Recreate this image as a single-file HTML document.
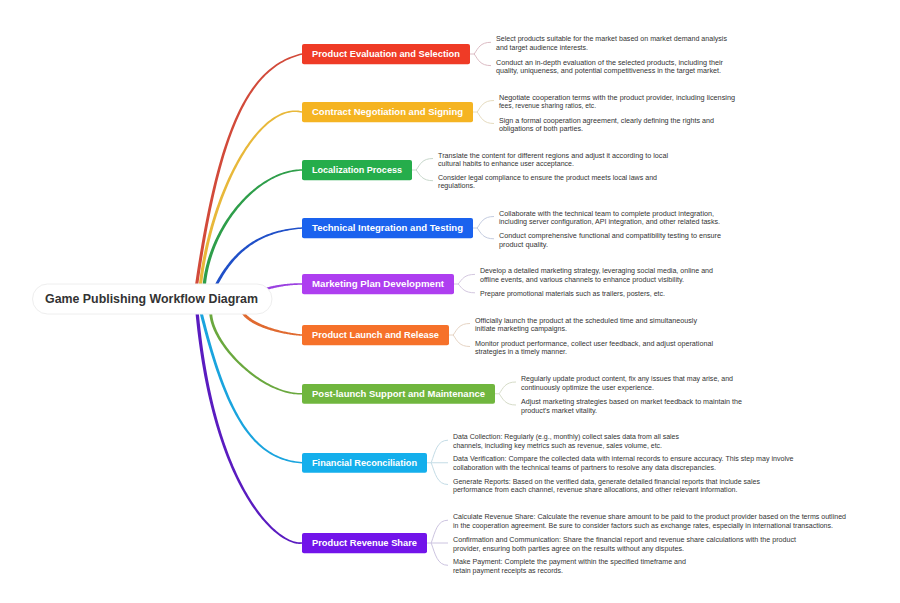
<!DOCTYPE html>
<html><head><meta charset="utf-8"><style>
html,body{margin:0;padding:0;background:#fff;}
svg{display:block;}
.tl{font-family:"Liberation Sans",sans-serif;font-weight:bold;font-size:9.5px;fill:#fff;}
.rt{font-family:"Liberation Sans",sans-serif;font-weight:bold;font-size:12px;fill:#333;}
.st{font-family:"Liberation Sans",sans-serif;font-size:7.6px;fill:#333;}
</style></head><body>
<svg width="900" height="603" viewBox="0 0 900 603">
<defs><clipPath id="cu"><rect x="0" y="0" width="900" height="299"/></clipPath><clipPath id="cl"><rect x="0" y="299" width="900" height="304"/></clipPath></defs>
<rect width="900" height="603" fill="#fff"/>
<path d="M187.61 370.73 L188.54 362.20 L189.47 353.82 L190.41 345.57 L191.35 337.48 L192.31 329.52 L193.27 321.70 L194.24 314.02 L195.22 306.48 L196.21 299.07 L197.20 291.80 L198.21 284.66 L199.23 277.66 L200.25 270.79 L201.29 264.05 L202.33 257.44 L203.39 250.96 L204.46 244.61 L205.53 238.38 L206.62 232.28 L207.73 226.31 L208.84 220.46 L209.96 214.73 L211.10 209.12 L212.25 203.63 L213.42 198.26 L214.59 193.01 L215.78 187.88 L216.98 182.86 L218.20 177.96 L219.43 173.17 L220.68 168.49 L221.94 163.92 L223.21 159.47 L224.50 155.12 L225.81 150.89 L227.13 146.76 L228.47 142.73 L229.82 138.81 L231.19 135.00 L232.57 131.29 L233.98 127.67 L235.39 124.17 L236.83 120.75 L238.28 117.44 L239.76 114.23 L241.25 111.11 L242.75 108.09 L244.28 105.16 L245.82 102.32 L247.39 99.58 L248.97 96.92 L250.57 94.36 L252.19 91.88 L253.84 89.49 L255.50 87.19 L257.18 84.97 L258.88 82.84 L260.60 80.78 L262.35 78.81 L264.11 76.92 L265.90 75.11 L267.71 73.38 L269.54 71.72 L271.40 70.14 L273.28 68.64 L275.18 67.20 L277.10 65.84 L279.05 64.55 L281.02 63.33 L283.02 62.18 L285.04 61.10 L287.09 60.08 L289.17 59.13 L291.27 58.24 L293.39 57.42 L295.55 56.65 L297.73 55.95 L299.94 55.31 L302.18 54.73 L301.82 53.27 L299.54 53.84 L297.29 54.47 L295.05 55.16 L292.85 55.92 L290.67 56.73 L288.51 57.62 L286.38 58.57 L284.28 59.59 L282.20 60.68 L280.14 61.83 L278.11 63.06 L276.10 64.36 L274.12 65.73 L272.16 67.18 L270.22 68.70 L268.31 70.30 L266.42 71.98 L264.55 73.73 L262.71 75.56 L260.89 77.47 L259.09 79.47 L257.32 81.54 L255.56 83.70 L253.83 85.95 L252.12 88.27 L250.43 90.69 L248.77 93.19 L247.12 95.78 L245.49 98.46 L243.89 101.23 L242.30 104.09 L240.73 107.05 L239.19 110.10 L237.66 113.24 L236.15 116.48 L234.66 119.81 L233.19 123.25 L231.73 126.78 L230.30 130.41 L228.88 134.14 L227.48 137.98 L226.09 141.92 L224.72 145.96 L223.37 150.11 L222.03 154.37 L220.71 158.73 L219.41 163.21 L218.12 167.79 L216.84 172.48 L215.58 177.29 L214.34 182.21 L213.11 187.24 L211.89 192.39 L210.68 197.65 L209.49 203.04 L208.32 208.54 L207.15 214.16 L206.00 219.90 L204.86 225.77 L203.73 231.75 L202.61 237.86 L201.51 244.10 L200.42 250.47 L199.33 256.96 L198.26 263.58 L197.20 270.32 L196.15 277.20 L195.11 284.22 L194.07 291.36 L193.05 298.64 L192.04 306.05 L191.03 313.60 L190.04 321.29 L189.05 329.12 L188.07 337.08 L187.10 345.19 L186.14 353.44 L185.18 361.83 L184.23 370.36Z" fill="#d24a3a" clip-path="url(#cu)"/>
<path d="M200.24 311.66 L200.34 308.00 L200.50 304.32 L200.70 300.63 L200.94 296.93 L201.23 293.22 L201.57 289.49 L201.94 285.76 L202.37 282.03 L202.83 278.29 L203.34 274.55 L203.89 270.81 L204.48 267.07 L205.11 263.34 L205.78 259.61 L206.48 255.89 L207.23 252.18 L208.01 248.48 L208.83 244.79 L209.69 241.11 L210.58 237.45 L211.51 233.81 L212.47 230.19 L213.46 226.59 L214.49 223.01 L215.55 219.46 L216.64 215.93 L217.77 212.43 L218.92 208.96 L220.10 205.53 L221.31 202.13 L222.55 198.76 L223.82 195.43 L225.11 192.14 L226.43 188.88 L227.78 185.68 L229.15 182.51 L230.54 179.39 L231.96 176.32 L233.40 173.30 L234.86 170.33 L236.35 167.41 L237.85 164.55 L239.38 161.74 L240.93 158.99 L242.49 156.30 L244.07 153.68 L245.67 151.11 L247.29 148.61 L248.92 146.18 L250.57 143.82 L252.23 141.53 L253.91 139.30 L255.60 137.16 L257.30 135.09 L259.01 133.09 L260.74 131.18 L262.47 129.34 L264.22 127.59 L265.97 125.92 L267.73 124.34 L269.50 122.85 L271.27 121.44 L273.06 120.13 L274.84 118.91 L276.63 117.78 L278.43 116.75 L280.22 115.82 L282.02 114.98 L283.82 114.25 L285.62 113.61 L287.43 113.08 L289.23 112.65 L291.03 112.33 L292.83 112.12 L294.63 112.02 L296.43 112.03 L298.23 112.15 L300.03 112.38 L301.83 112.73 L302.17 111.27 L300.29 110.88 L298.39 110.61 L296.50 110.46 L294.60 110.42 L292.70 110.51 L290.80 110.71 L288.90 111.02 L287.00 111.44 L285.11 111.98 L283.21 112.61 L281.33 113.36 L279.44 114.21 L277.56 115.16 L275.69 116.20 L273.83 117.35 L271.97 118.59 L270.12 119.92 L268.28 121.35 L266.45 122.86 L264.63 124.46 L262.82 126.15 L261.02 127.92 L259.23 129.78 L257.46 131.71 L255.70 133.73 L253.95 135.82 L252.21 137.99 L250.49 140.23 L248.78 142.54 L247.09 144.92 L245.42 147.37 L243.76 149.89 L242.12 152.47 L240.50 155.12 L238.90 157.82 L237.31 160.59 L235.75 163.41 L234.21 166.29 L232.69 169.23 L231.19 172.22 L229.71 175.26 L228.26 178.35 L226.83 181.48 L225.43 184.66 L224.05 187.89 L222.69 191.16 L221.37 194.47 L220.07 197.82 L218.80 201.21 L217.55 204.63 L216.34 208.08 L215.15 211.57 L214.00 215.09 L212.88 218.63 L211.79 222.21 L210.73 225.81 L209.70 229.43 L208.71 233.07 L207.75 236.74 L206.83 240.42 L205.94 244.12 L205.09 247.83 L204.28 251.56 L203.50 255.30 L202.77 259.05 L202.07 262.80 L201.41 266.56 L200.79 270.33 L200.21 274.10 L199.68 277.87 L199.18 281.64 L198.73 285.41 L198.33 289.17 L197.96 292.93 L197.65 296.68 L197.37 300.42 L197.15 304.15 L196.97 307.87 L196.84 311.57Z" fill="#e8b83a" clip-path="url(#cu)"/>
<path d="M205.43 296.11 L205.45 293.78 L205.51 291.45 L205.62 289.12 L205.78 286.79 L205.98 284.46 L206.23 282.13 L206.52 279.81 L206.85 277.49 L207.23 275.18 L207.65 272.87 L208.11 270.56 L208.61 268.26 L209.15 265.97 L209.74 263.69 L210.36 261.42 L211.02 259.16 L211.71 256.90 L212.45 254.66 L213.22 252.44 L214.03 250.22 L214.87 248.02 L215.74 245.83 L216.66 243.66 L217.60 241.51 L218.58 239.37 L219.59 237.25 L220.63 235.15 L221.70 233.07 L222.80 231.00 L223.93 228.96 L225.09 226.94 L226.28 224.95 L227.50 222.97 L228.74 221.02 L230.01 219.10 L231.30 217.20 L232.62 215.33 L233.97 213.48 L235.33 211.66 L236.73 209.88 L238.14 208.12 L239.57 206.39 L241.03 204.69 L242.51 203.02 L244.00 201.39 L245.52 199.79 L247.05 198.23 L248.61 196.70 L250.17 195.20 L251.76 193.74 L253.36 192.32 L254.98 190.94 L256.61 189.59 L258.25 188.29 L259.91 187.03 L261.58 185.80 L263.27 184.62 L264.96 183.48 L266.67 182.39 L268.38 181.34 L270.11 180.33 L271.84 179.37 L273.58 178.46 L275.33 177.59 L277.08 176.77 L278.84 176.00 L280.61 175.28 L282.38 174.61 L284.16 173.99 L285.94 173.42 L287.72 172.90 L289.50 172.44 L291.29 172.03 L293.08 171.68 L294.87 171.38 L296.65 171.13 L298.44 170.95 L300.23 170.82 L302.01 170.75 L301.99 169.25 L300.15 169.30 L298.32 169.41 L296.48 169.57 L294.64 169.80 L292.80 170.08 L290.96 170.42 L289.12 170.82 L287.28 171.27 L285.45 171.77 L283.62 172.33 L281.79 172.95 L279.97 173.61 L278.15 174.33 L276.34 175.09 L274.53 175.91 L272.73 176.77 L270.94 177.68 L269.16 178.64 L267.39 179.65 L265.62 180.70 L263.87 181.80 L262.13 182.94 L260.40 184.13 L258.68 185.35 L256.97 186.62 L255.28 187.93 L253.61 189.28 L251.94 190.67 L250.30 192.10 L248.67 193.57 L247.05 195.07 L245.45 196.61 L243.88 198.19 L242.32 199.80 L240.78 201.45 L239.26 203.13 L237.76 204.84 L236.28 206.58 L234.82 208.35 L233.39 210.16 L231.98 211.99 L230.59 213.85 L229.23 215.74 L227.89 217.66 L226.58 219.61 L225.29 221.58 L224.04 223.57 L222.81 225.59 L221.61 227.63 L220.43 229.70 L219.29 231.79 L218.18 233.90 L217.10 236.02 L216.05 238.17 L215.03 240.34 L214.04 242.53 L213.09 244.73 L212.18 246.95 L211.30 249.19 L210.45 251.44 L209.64 253.70 L208.87 255.98 L208.13 258.27 L207.44 260.58 L206.78 262.89 L206.16 265.22 L205.58 267.56 L205.04 269.90 L204.55 272.26 L204.10 274.62 L203.69 276.99 L203.32 279.36 L203.00 281.74 L202.72 284.13 L202.49 286.52 L202.30 288.91 L202.17 291.31 L202.08 293.70 L202.03 296.10Z" fill="#2e9e4a" clip-path="url(#cu)"/>
<path d="M199.17 337.55 L199.92 334.56 L200.68 331.62 L201.46 328.73 L202.25 325.90 L203.05 323.11 L203.87 320.38 L204.70 317.69 L205.55 315.05 L206.41 312.47 L207.29 309.93 L208.18 307.44 L209.08 304.99 L210.00 302.60 L210.93 300.25 L211.88 297.94 L212.84 295.69 L213.81 293.48 L214.80 291.31 L215.80 289.19 L216.82 287.11 L217.85 285.08 L218.90 283.09 L219.95 281.15 L221.03 279.24 L222.11 277.38 L223.21 275.57 L224.33 273.79 L225.46 272.06 L226.60 270.36 L227.76 268.71 L228.93 267.09 L230.11 265.52 L231.31 263.98 L232.53 262.49 L233.75 261.03 L234.99 259.61 L236.25 258.23 L237.52 256.88 L238.80 255.57 L240.10 254.30 L241.41 253.06 L242.74 251.86 L244.08 250.69 L245.43 249.56 L246.80 248.46 L248.18 247.40 L249.58 246.37 L250.99 245.37 L252.42 244.41 L253.86 243.47 L255.32 242.57 L256.79 241.70 L258.27 240.86 L259.77 240.06 L261.28 239.28 L262.81 238.53 L264.35 237.81 L265.91 237.12 L267.48 236.46 L269.07 235.83 L270.67 235.23 L272.29 234.65 L273.92 234.10 L275.57 233.58 L277.23 233.09 L278.91 232.62 L280.60 232.18 L282.31 231.76 L284.03 231.37 L285.76 231.00 L287.51 230.66 L289.28 230.34 L291.06 230.04 L292.86 229.77 L294.67 229.52 L296.49 229.29 L298.33 229.09 L300.19 228.91 L302.05 228.75 L301.95 227.25 L300.06 227.39 L298.18 227.55 L296.32 227.73 L294.47 227.94 L292.64 228.16 L290.81 228.42 L289.01 228.69 L287.21 228.99 L285.43 229.31 L283.67 229.66 L281.91 230.04 L280.17 230.44 L278.45 230.87 L276.74 231.32 L275.04 231.80 L273.35 232.31 L271.68 232.84 L270.02 233.41 L268.38 234.00 L266.75 234.62 L265.13 235.28 L263.53 235.96 L261.94 236.67 L260.36 237.41 L258.80 238.19 L257.26 239.00 L255.72 239.83 L254.20 240.70 L252.70 241.61 L251.21 242.54 L249.73 243.51 L248.27 244.52 L246.82 245.56 L245.38 246.63 L243.96 247.74 L242.55 248.88 L241.16 250.06 L239.78 251.28 L238.42 252.53 L237.07 253.82 L235.74 255.14 L234.42 256.51 L233.11 257.91 L231.82 259.35 L230.54 260.83 L229.28 262.35 L228.04 263.91 L226.80 265.50 L225.59 267.14 L224.38 268.82 L223.19 270.54 L222.02 272.30 L220.86 274.10 L219.72 275.94 L218.59 277.83 L217.47 279.75 L216.37 281.73 L215.29 283.74 L214.21 285.80 L213.16 287.90 L212.12 290.05 L211.09 292.24 L210.08 294.48 L209.08 296.76 L208.10 299.09 L207.13 301.46 L206.17 303.88 L205.24 306.35 L204.31 308.87 L203.40 311.43 L202.51 314.04 L201.63 316.71 L200.76 319.41 L199.91 322.17 L199.07 324.98 L198.25 327.84 L197.44 330.75 L196.65 333.71 L195.87 336.72Z" fill="#2050c8" clip-path="url(#cu)"/>
<path d="M236.64 301.57 L237.47 301.22 L238.30 300.87 L239.11 300.52 L239.93 300.18 L240.74 299.84 L241.55 299.49 L242.35 299.16 L243.15 298.82 L243.94 298.49 L244.73 298.15 L245.52 297.83 L246.31 297.50 L247.09 297.18 L247.87 296.86 L248.65 296.54 L249.42 296.22 L250.19 295.91 L250.97 295.60 L251.74 295.30 L252.50 295.00 L253.27 294.70 L254.04 294.40 L254.80 294.11 L255.56 293.82 L256.33 293.53 L257.09 293.25 L257.85 292.97 L258.62 292.70 L259.38 292.42 L260.14 292.16 L260.91 291.89 L261.67 291.63 L262.44 291.38 L263.21 291.12 L263.97 290.87 L264.74 290.63 L265.51 290.39 L266.29 290.15 L267.06 289.92 L267.84 289.69 L268.62 289.47 L269.40 289.25 L270.19 289.03 L270.98 288.82 L271.77 288.62 L272.57 288.42 L273.37 288.22 L274.17 288.03 L274.98 287.84 L275.79 287.66 L276.60 287.48 L277.42 287.31 L278.25 287.14 L279.08 286.98 L279.91 286.82 L280.76 286.67 L281.60 286.52 L282.45 286.38 L283.31 286.25 L284.18 286.12 L285.05 285.99 L285.92 285.87 L286.81 285.76 L287.70 285.65 L288.59 285.55 L289.50 285.45 L290.41 285.36 L291.33 285.27 L292.26 285.19 L293.19 285.12 L294.14 285.06 L295.09 284.99 L296.05 284.94 L297.02 284.89 L298.00 284.85 L298.98 284.82 L299.98 284.79 L300.98 284.77 L302.00 284.75 L302.00 283.25 L300.97 283.24 L299.96 283.24 L298.95 283.24 L297.95 283.26 L296.96 283.27 L295.98 283.30 L295.01 283.33 L294.04 283.37 L293.09 283.41 L292.14 283.46 L291.20 283.51 L290.26 283.58 L289.34 283.64 L288.42 283.72 L287.50 283.80 L286.60 283.88 L285.70 283.97 L284.80 284.07 L283.92 284.18 L283.03 284.28 L282.16 284.40 L281.29 284.52 L280.43 284.64 L279.57 284.77 L278.71 284.91 L277.86 285.05 L277.02 285.20 L276.18 285.35 L275.34 285.51 L274.51 285.67 L273.69 285.83 L272.86 286.01 L272.04 286.18 L271.23 286.36 L270.42 286.55 L269.61 286.74 L268.80 286.94 L268.00 287.14 L267.20 287.34 L266.40 287.55 L265.60 287.76 L264.81 287.98 L264.02 288.20 L263.23 288.43 L262.44 288.66 L261.65 288.89 L260.87 289.13 L260.08 289.37 L259.30 289.61 L258.52 289.86 L257.73 290.12 L256.95 290.37 L256.17 290.63 L255.39 290.90 L254.61 291.16 L253.83 291.43 L253.04 291.71 L252.26 291.98 L251.48 292.26 L250.69 292.55 L249.91 292.83 L249.12 293.12 L248.33 293.41 L247.54 293.71 L246.75 294.01 L245.95 294.31 L245.16 294.61 L244.36 294.91 L243.56 295.22 L242.75 295.53 L241.94 295.85 L241.13 296.16 L240.32 296.48 L239.50 296.80 L238.68 297.12 L237.86 297.44 L237.03 297.77 L236.19 298.10 L235.36 298.43Z" fill="#9a40e0"/>
<path d="M239.01 302.90 L238.94 303.87 L238.92 304.83 L238.96 305.78 L239.06 306.71 L239.22 307.62 L239.43 308.52 L239.69 309.40 L240.01 310.26 L240.37 311.10 L240.77 311.92 L241.23 312.72 L241.72 313.50 L242.25 314.26 L242.83 315.01 L243.44 315.74 L244.08 316.44 L244.76 317.14 L245.47 317.81 L246.22 318.47 L246.99 319.11 L247.79 319.74 L248.62 320.35 L249.47 320.94 L250.35 321.53 L251.25 322.09 L252.18 322.65 L253.12 323.19 L254.09 323.71 L255.07 324.23 L256.07 324.73 L257.09 325.22 L258.13 325.69 L259.18 326.15 L260.24 326.60 L261.31 327.04 L262.40 327.47 L263.49 327.88 L264.59 328.29 L265.70 328.68 L266.81 329.06 L267.93 329.42 L269.06 329.78 L270.18 330.13 L271.31 330.46 L272.43 330.78 L273.56 331.10 L274.68 331.40 L275.80 331.69 L276.91 331.97 L278.02 332.24 L279.12 332.49 L280.21 332.74 L281.29 332.98 L282.37 333.21 L283.42 333.43 L284.47 333.63 L285.50 333.83 L286.51 334.02 L287.51 334.19 L288.49 334.36 L289.45 334.52 L290.39 334.66 L291.30 334.80 L292.20 334.93 L293.06 335.05 L293.91 335.16 L294.72 335.26 L295.51 335.35 L296.27 335.43 L297.00 335.50 L297.70 335.57 L298.36 335.62 L298.99 335.66 L299.59 335.70 L300.14 335.73 L300.67 335.75 L301.15 335.76 L301.59 335.76 L302.00 335.75 L302.00 334.25 L301.63 334.23 L301.21 334.21 L300.75 334.18 L300.25 334.14 L299.71 334.09 L299.13 334.03 L298.52 333.96 L297.87 333.88 L297.19 333.80 L296.48 333.70 L295.73 333.60 L294.96 333.49 L294.16 333.36 L293.33 333.23 L292.48 333.09 L291.60 332.94 L290.70 332.78 L289.78 332.61 L288.84 332.43 L287.87 332.24 L286.89 332.05 L285.90 331.84 L284.88 331.62 L283.86 331.39 L282.82 331.16 L281.77 330.91 L280.70 330.65 L279.63 330.38 L278.55 330.10 L277.47 329.82 L276.38 329.52 L275.28 329.21 L274.19 328.89 L273.09 328.56 L271.99 328.22 L270.89 327.87 L269.79 327.51 L268.70 327.13 L267.61 326.75 L266.53 326.36 L265.45 325.95 L264.39 325.54 L263.33 325.11 L262.29 324.68 L261.26 324.23 L260.24 323.77 L259.23 323.30 L258.25 322.82 L257.28 322.33 L256.33 321.83 L255.40 321.32 L254.49 320.80 L253.60 320.27 L252.74 319.72 L251.91 319.17 L251.10 318.61 L250.32 318.03 L249.57 317.45 L248.85 316.86 L248.16 316.26 L247.50 315.65 L246.88 315.03 L246.30 314.40 L245.75 313.76 L245.24 313.12 L244.77 312.47 L244.33 311.81 L243.94 311.15 L243.58 310.47 L243.27 309.80 L243.00 309.11 L242.77 308.42 L242.59 307.72 L242.44 307.01 L242.34 306.29 L242.28 305.56 L242.27 304.82 L242.31 304.07 L242.39 303.30Z" fill="#e06a30"/>
<path d="M230.67 287.75 L228.49 288.31 L226.44 288.96 L224.51 289.68 L222.70 290.48 L221.00 291.36 L219.42 292.31 L217.96 293.34 L216.61 294.43 L215.38 295.60 L214.27 296.83 L213.27 298.12 L212.39 299.47 L211.62 300.87 L210.96 302.32 L210.41 303.82 L209.97 305.36 L209.64 306.94 L209.41 308.56 L209.28 310.21 L209.24 311.88 L209.30 313.59 L209.45 315.32 L209.69 317.08 L210.01 318.86 L210.42 320.66 L210.91 322.47 L211.47 324.31 L212.12 326.16 L212.84 328.02 L213.63 329.90 L214.49 331.78 L215.42 333.68 L216.42 335.58 L217.48 337.48 L218.60 339.39 L219.79 341.29 L221.03 343.20 L222.33 345.10 L223.69 347.00 L225.10 348.89 L226.56 350.77 L228.07 352.64 L229.63 354.49 L231.23 356.33 L232.88 358.15 L234.57 359.96 L236.30 361.74 L238.07 363.49 L239.88 365.22 L241.72 366.93 L243.60 368.60 L245.50 370.24 L247.44 371.84 L249.40 373.41 L251.39 374.94 L253.40 376.43 L255.43 377.88 L257.49 379.28 L259.56 380.63 L261.65 381.94 L263.75 383.19 L265.87 384.39 L268.00 385.54 L270.14 386.63 L272.28 387.65 L274.43 388.62 L276.58 389.52 L278.74 390.35 L280.89 391.12 L283.04 391.81 L285.19 392.43 L287.34 392.98 L289.47 393.44 L291.60 393.83 L293.72 394.14 L295.82 394.36 L297.91 394.50 L299.98 394.54 L302.03 394.50 L301.97 393.00 L299.99 393.02 L297.98 392.95 L295.96 392.80 L293.92 392.56 L291.87 392.24 L289.81 391.83 L287.73 391.36 L285.65 390.80 L283.56 390.17 L281.46 389.47 L279.36 388.70 L277.26 387.86 L275.16 386.96 L273.06 385.99 L270.97 384.96 L268.88 383.87 L266.80 382.73 L264.73 381.53 L262.68 380.27 L260.64 378.97 L258.61 377.62 L256.60 376.22 L254.61 374.78 L252.65 373.29 L250.70 371.77 L248.79 370.20 L246.90 368.60 L245.04 366.97 L243.21 365.31 L241.41 363.61 L239.65 361.89 L237.92 360.15 L236.24 358.38 L234.59 356.59 L232.99 354.79 L231.43 352.96 L229.92 351.13 L228.46 349.28 L227.04 347.42 L225.68 345.56 L224.37 343.69 L223.12 341.82 L221.93 339.94 L220.80 338.07 L219.72 336.21 L218.71 334.35 L217.77 332.50 L216.89 330.66 L216.09 328.83 L215.35 327.02 L214.68 325.23 L214.09 323.46 L213.58 321.72 L213.14 320.00 L212.78 318.31 L212.50 316.65 L212.30 315.02 L212.19 313.43 L212.16 311.88 L212.21 310.37 L212.35 308.91 L212.58 307.49 L212.89 306.11 L213.29 304.78 L213.79 303.50 L214.37 302.27 L215.04 301.09 L215.81 299.96 L216.67 298.87 L217.64 297.84 L218.71 296.86 L219.89 295.93 L221.18 295.05 L222.58 294.23 L224.10 293.47 L225.75 292.77 L227.51 292.13 L229.40 291.56 L231.42 291.06Z" fill="#6aa83e" clip-path="url(#cl)"/>
<path d="M180.71 226.55 L181.95 232.80 L183.19 238.95 L184.42 245.00 L185.65 250.97 L186.87 256.83 L188.09 262.61 L189.31 268.29 L190.52 273.89 L191.74 279.39 L192.95 284.80 L194.17 290.12 L195.38 295.35 L196.59 300.49 L197.81 305.54 L199.02 310.50 L200.24 315.38 L201.46 320.16 L202.68 324.86 L203.91 329.47 L205.14 334.00 L206.37 338.44 L207.61 342.79 L208.86 347.06 L210.11 351.25 L211.36 355.35 L212.63 359.36 L213.90 363.30 L215.17 367.15 L216.46 370.91 L217.76 374.60 L219.06 378.20 L220.37 381.73 L221.70 385.17 L223.03 388.53 L224.38 391.82 L225.74 395.02 L227.10 398.14 L228.49 401.19 L229.88 404.16 L231.29 407.05 L232.71 409.86 L234.15 412.60 L235.60 415.26 L237.07 417.84 L238.56 420.35 L240.06 422.78 L241.58 425.14 L243.11 427.43 L244.67 429.64 L246.24 431.78 L247.83 433.84 L249.44 435.83 L251.08 437.75 L252.73 439.60 L254.40 441.38 L256.10 443.08 L257.81 444.71 L259.55 446.28 L261.32 447.77 L263.10 449.19 L264.91 450.55 L266.74 451.83 L268.60 453.05 L270.48 454.20 L272.39 455.28 L274.32 456.29 L276.28 457.24 L278.27 458.11 L280.28 458.93 L282.32 459.67 L284.39 460.35 L286.48 460.97 L288.60 461.52 L290.75 462.01 L292.93 462.43 L295.14 462.79 L297.38 463.09 L299.65 463.32 L301.95 463.50 L302.05 462.00 L299.79 461.81 L297.57 461.55 L295.38 461.24 L293.22 460.86 L291.10 460.42 L289.00 459.92 L286.94 459.36 L284.90 458.74 L282.89 458.05 L280.92 457.30 L278.97 456.49 L277.04 455.62 L275.15 454.68 L273.28 453.67 L271.44 452.60 L269.62 451.46 L267.82 450.26 L266.05 448.99 L264.31 447.65 L262.58 446.25 L260.88 444.77 L259.20 443.23 L257.54 441.62 L255.90 439.94 L254.28 438.19 L252.68 436.36 L251.10 434.47 L249.54 432.50 L248.00 430.46 L246.48 428.35 L244.97 426.16 L243.48 423.90 L242.00 421.57 L240.55 419.16 L239.10 416.67 L237.68 414.11 L236.26 411.48 L234.86 408.76 L233.48 405.97 L232.11 403.10 L230.75 400.15 L229.40 397.13 L228.07 394.02 L226.74 390.84 L225.43 387.57 L224.13 384.23 L222.84 380.80 L221.55 377.30 L220.28 373.71 L219.02 370.04 L217.76 366.28 L216.51 362.45 L215.27 358.53 L214.04 354.52 L212.81 350.44 L211.59 346.26 L210.37 342.01 L209.16 337.66 L207.96 333.23 L206.75 328.72 L205.55 324.11 L204.36 319.42 L203.17 314.64 L201.97 309.78 L200.78 304.82 L199.60 299.78 L198.41 294.65 L197.22 289.42 L196.04 284.11 L194.85 278.70 L193.66 273.21 L192.47 267.62 L191.28 261.94 L190.08 256.17 L188.88 250.30 L187.68 244.34 L186.48 238.29 L185.27 232.14 L184.05 225.90Z" fill="#1aa4de" clip-path="url(#cl)"/>
<path d="M193.01 280.00 L193.48 287.68 L194.00 295.23 L194.58 302.64 L195.21 309.92 L195.89 317.07 L196.63 324.09 L197.41 330.97 L198.25 337.73 L199.13 344.36 L200.06 350.87 L201.03 357.24 L202.05 363.50 L203.11 369.62 L204.20 375.63 L205.34 381.51 L206.52 387.27 L207.74 392.91 L208.99 398.43 L210.27 403.83 L211.59 409.11 L212.94 414.28 L214.33 419.32 L215.74 424.26 L217.18 429.08 L218.64 433.78 L220.13 438.37 L221.65 442.85 L223.19 447.22 L224.75 451.48 L226.33 455.63 L227.93 459.67 L229.55 463.61 L231.18 467.43 L232.83 471.16 L234.50 474.77 L236.17 478.29 L237.86 481.70 L239.56 485.01 L241.26 488.21 L242.98 491.32 L244.70 494.33 L246.42 497.24 L248.15 500.05 L249.88 502.77 L251.61 505.39 L253.35 507.91 L255.08 510.34 L256.80 512.68 L258.53 514.92 L260.25 517.08 L261.96 519.14 L263.66 521.11 L265.36 523.00 L267.04 524.80 L268.71 526.51 L270.37 528.13 L272.02 529.67 L273.65 531.13 L275.26 532.50 L276.85 533.79 L278.43 535.00 L279.98 536.13 L281.52 537.17 L283.03 538.14 L284.51 539.03 L285.97 539.85 L287.41 540.58 L288.82 541.25 L290.19 541.83 L291.54 542.35 L292.86 542.78 L294.14 543.15 L295.39 543.45 L296.60 543.67 L297.78 543.82 L298.92 543.91 L300.03 543.92 L301.09 543.87 L302.11 543.74 L301.89 542.26 L300.97 542.35 L300.01 542.37 L299.01 542.34 L297.96 542.24 L296.87 542.07 L295.74 541.84 L294.58 541.54 L293.37 541.17 L292.13 540.73 L290.86 540.22 L289.55 539.64 L288.21 538.99 L286.84 538.26 L285.44 537.45 L284.02 536.57 L282.57 535.61 L281.09 534.57 L279.59 533.46 L278.07 532.26 L276.53 530.98 L274.97 529.62 L273.39 528.18 L271.80 526.66 L270.19 525.05 L268.56 523.35 L266.93 521.57 L265.28 519.70 L263.62 517.74 L261.96 515.70 L260.28 513.56 L258.60 511.33 L256.92 509.01 L255.23 506.60 L253.54 504.10 L251.85 501.50 L250.16 498.80 L248.47 496.01 L246.79 493.12 L245.11 490.13 L243.43 487.05 L241.76 483.86 L240.10 480.58 L238.45 477.19 L236.82 473.70 L235.19 470.10 L233.58 466.40 L231.98 462.60 L230.39 458.69 L228.83 454.67 L227.28 450.54 L225.76 446.31 L224.25 441.96 L222.77 437.51 L221.31 432.94 L219.88 428.26 L218.47 423.46 L217.09 418.56 L215.74 413.53 L214.42 408.39 L213.14 403.14 L211.88 397.76 L210.66 392.27 L209.47 386.66 L208.33 380.92 L207.22 375.07 L206.15 369.09 L205.12 362.99 L204.13 356.76 L203.18 350.41 L202.28 343.93 L201.43 337.33 L200.62 330.60 L199.87 323.74 L199.16 316.75 L198.50 309.63 L197.90 302.37 L197.34 294.99 L196.85 287.47 L196.41 279.82Z" fill="#5a1cc0" clip-path="url(#cl)"/>
<rect x="32.5" y="284" width="239.5" height="30" rx="15" fill="#fff" stroke="#eeeeee" stroke-width="1"/>
<text x="45" y="302.8" class="rt" textLength="213" lengthAdjust="spacingAndGlyphs">Game Publishing Workflow Diagram</text>
<rect x="302" y="44" width="168" height="20.3" rx="2" fill="#ef3b26"/>
<text x="312" y="57.3" class="tl" textLength="148" lengthAdjust="spacingAndGlyphs">Product Evaluation and Selection</text>
<rect x="302" y="102" width="171" height="20.3" rx="2" fill="#f5b422"/>
<text x="312" y="115.3" class="tl" textLength="151" lengthAdjust="spacingAndGlyphs">Contract Negotiation and Signing</text>
<rect x="302" y="160" width="110" height="20.3" rx="2" fill="#25ad4b"/>
<text x="312" y="173.3" class="tl" textLength="90" lengthAdjust="spacingAndGlyphs">Localization Process</text>
<rect x="302" y="218" width="171" height="20.3" rx="2" fill="#1a62ee"/>
<text x="312" y="231.3" class="tl" textLength="151" lengthAdjust="spacingAndGlyphs">Technical Integration and Testing</text>
<rect x="302" y="274" width="152" height="20.3" rx="2" fill="#ae3ef0"/>
<text x="312" y="287.3" class="tl" textLength="132" lengthAdjust="spacingAndGlyphs">Marketing Plan Development</text>
<rect x="302" y="325" width="147" height="20.3" rx="2" fill="#f6712a"/>
<text x="312" y="338.3" class="tl" textLength="127" lengthAdjust="spacingAndGlyphs">Product Launch and Release</text>
<rect x="302" y="384" width="193" height="19.8" rx="2" fill="#70b63e"/>
<text x="312" y="397.1" class="tl" textLength="173" lengthAdjust="spacingAndGlyphs">Post-launch Support and Maintenance</text>
<rect x="302" y="453" width="125" height="19.8" rx="2" fill="#14afec"/>
<text x="312" y="466.1" class="tl" textLength="105" lengthAdjust="spacingAndGlyphs">Financial Reconciliation</text>
<rect x="302" y="533" width="125" height="20.3" rx="2" fill="#7214ea"/>
<text x="312" y="546.3" class="tl" textLength="105" lengthAdjust="spacingAndGlyphs">Product Revenue Share</text>
<text x="496" y="41.3" class="st" textLength="231.0" lengthAdjust="spacingAndGlyphs">Select products suitable for the market based on market demand analysis</text>
<text x="496" y="50.0" class="st" textLength="92.0" lengthAdjust="spacingAndGlyphs">and target audience interests.</text>
<text x="496" y="64.7" class="st" textLength="227.0" lengthAdjust="spacingAndGlyphs">Conduct an in-depth evaluation of the selected products, including their</text>
<text x="496" y="73.3" class="st" textLength="225.0" lengthAdjust="spacingAndGlyphs">quality, uniqueness, and potential competitiveness in the target market.</text>
<path d="M470 54.0 L474.2 54.0 M474.2 54.0 C478.2 48.1 480.2 42.3 491 42.3 M474.2 54.0 C478.2 59.8 480.2 65.6 491 65.6 " fill="none" stroke="#dcbcc4" stroke-width="1"/>
<text x="499" y="99.6" class="st" textLength="236.0" lengthAdjust="spacingAndGlyphs">Negotiate cooperation terms with the product provider, including licensing</text>
<text x="499" y="108.2" class="st" textLength="97.0" lengthAdjust="spacingAndGlyphs">fees, revenue sharing ratios, etc.</text>
<text x="499" y="122.6" class="st" textLength="215.0" lengthAdjust="spacingAndGlyphs">Sign a formal cooperation agreement, clearly defining the rights and</text>
<text x="499" y="131.2" class="st" textLength="84.0" lengthAdjust="spacingAndGlyphs">obligations of both parties.</text>
<path d="M473 112.0 L477.2 112.0 M477.2 112.0 C481.2 106.2 483.2 100.5 494 100.5 M477.2 112.0 C481.2 117.8 483.2 123.5 494 123.5 " fill="none" stroke="#e6dcc0" stroke-width="1"/>
<text x="438" y="157.6" class="st" textLength="230.0" lengthAdjust="spacingAndGlyphs">Translate the content for different regions and adjust it according to local</text>
<text x="438" y="166.2" class="st" textLength="136.0" lengthAdjust="spacingAndGlyphs">cultural habits to enhance user acceptance.</text>
<text x="438" y="179.8" class="st" textLength="219.0" lengthAdjust="spacingAndGlyphs">Consider legal compliance to ensure the product meets local laws and</text>
<text x="438" y="188.4" class="st" textLength="37.0" lengthAdjust="spacingAndGlyphs">regulations.</text>
<path d="M412 170.0 L416.2 170.0 M416.2 170.0 C420.2 164.2 422.2 158.5 433 158.5 M416.2 170.0 C420.2 175.3 422.2 180.7 433 180.7 " fill="none" stroke="#c8d8cc" stroke-width="1"/>
<text x="499" y="215.6" class="st" textLength="215.0" lengthAdjust="spacingAndGlyphs">Collaborate with the technical team to complete product integration,</text>
<text x="499" y="224.2" class="st" textLength="221.0" lengthAdjust="spacingAndGlyphs">including server configuration, API integration, and other related tasks.</text>
<text x="499" y="237.9" class="st" textLength="222.0" lengthAdjust="spacingAndGlyphs">Conduct comprehensive functional and compatibility testing to ensure</text>
<text x="499" y="246.6" class="st" textLength="49.0" lengthAdjust="spacingAndGlyphs">product quality.</text>
<path d="M473 228.0 L477.2 228.0 M477.2 228.0 C481.2 222.2 483.2 216.5 494 216.5 M477.2 228.0 C481.2 233.4 483.2 238.8 494 238.8 " fill="none" stroke="#c4cce0" stroke-width="1"/>
<text x="480" y="273.4" class="st" textLength="233.0" lengthAdjust="spacingAndGlyphs">Develop a detailed marketing strategy, leveraging social media, online and</text>
<text x="480" y="282.1" class="st" textLength="204.0" lengthAdjust="spacingAndGlyphs">offline events, and various channels to enhance product visibility.</text>
<text x="480" y="296.2" class="st" textLength="185.0" lengthAdjust="spacingAndGlyphs">Prepare promotional materials such as trailers, posters, etc.</text>
<path d="M454 284.0 L458.2 284.0 M458.2 284.0 C462.2 279.2 464.2 274.4 475 274.4 M458.2 284.0 C462.2 288.4 464.2 292.8 475 292.8 " fill="none" stroke="#d4c8e0" stroke-width="1"/>
<text x="475" y="322.5" class="st" textLength="222.0" lengthAdjust="spacingAndGlyphs">Officially launch the product at the scheduled time and simultaneously</text>
<text x="475" y="331.2" class="st" textLength="92.0" lengthAdjust="spacingAndGlyphs">initiate marketing campaigns.</text>
<text x="475" y="345.5" class="st" textLength="238.0" lengthAdjust="spacingAndGlyphs">Monitor product performance, collect user feedback, and adjust operational</text>
<text x="475" y="354.2" class="st" textLength="92.0" lengthAdjust="spacingAndGlyphs">strategies in a timely manner.</text>
<path d="M449 335.0 L453.2 335.0 M453.2 335.0 C457.2 329.2 459.2 323.5 470 323.5 M453.2 335.0 C457.2 340.8 459.2 346.5 470 346.5 " fill="none" stroke="#e6d4c4" stroke-width="1"/>
<text x="521" y="381.0" class="st" textLength="212.0" lengthAdjust="spacingAndGlyphs">Regularly update product content, fix any issues that may arise, and</text>
<text x="521" y="389.8" class="st" textLength="133.0" lengthAdjust="spacingAndGlyphs">continuously optimize the user experience.</text>
<text x="521" y="404.0" class="st" textLength="221.0" lengthAdjust="spacingAndGlyphs">Adjust marketing strategies based on market feedback to maintain the</text>
<text x="521" y="412.8" class="st" textLength="76.0" lengthAdjust="spacingAndGlyphs">product's market vitality.</text>
<path d="M495 393.75 L499.2 393.75 M499.2 393.75 C503.2 387.9 505.2 382 516 382 M499.2 393.75 C503.2 399.4 505.2 405 516 405 " fill="none" stroke="#d6dcc8" stroke-width="1"/>
<text x="453" y="439.2" class="st" textLength="226.0" lengthAdjust="spacingAndGlyphs">Data Collection: Regularly (e.g., monthly) collect sales data from all sales</text>
<text x="453" y="447.9" class="st" textLength="209.0" lengthAdjust="spacingAndGlyphs">channels, including key metrics such as revenue, sales volume, etc.</text>
<text x="453" y="461.3" class="st" textLength="340.5" lengthAdjust="spacingAndGlyphs">Data Verification: Compare the collected data with internal records to ensure accuracy. This step may involve</text>
<text x="453" y="470.1" class="st" textLength="263.0" lengthAdjust="spacingAndGlyphs">collaboration with the technical teams of partners to resolve any data discrepancies.</text>
<text x="453" y="483.5" class="st" textLength="307.0" lengthAdjust="spacingAndGlyphs">Generate Reports: Based on the verified data, generate detailed financial reports that include sales</text>
<text x="453" y="492.2" class="st" textLength="284.5" lengthAdjust="spacingAndGlyphs">performance from each channel, revenue share allocations, and other relevant information.</text>
<path d="M427 462.75 L431.2 462.75 M431.2 462.75 C435.2 451.5 437.2 440.2 448 440.2 M431.2 462.75 L448 462.75 M431.2 462.75 C435.2 473.6 437.2 484.5 448 484.5 " fill="none" stroke="#c4dce6" stroke-width="1"/>
<text x="453" y="519.2" class="st" textLength="393.0" lengthAdjust="spacingAndGlyphs">Calculate Revenue Share: Calculate the revenue share amount to be paid to the product provider based on the terms outlined</text>
<text x="453" y="528.0" class="st" textLength="380.0" lengthAdjust="spacingAndGlyphs">in the cooperation agreement. Be sure to consider factors such as exchange rates, especially in international transactions.</text>
<text x="453" y="541.8" class="st" textLength="343.0" lengthAdjust="spacingAndGlyphs">Confirmation and Communication: Share the financial report and revenue share calculations with the product</text>
<text x="453" y="550.5" class="st" textLength="231.0" lengthAdjust="spacingAndGlyphs">provider, ensuring both parties agree on the results without any disputes.</text>
<text x="453" y="564.3" class="st" textLength="233.0" lengthAdjust="spacingAndGlyphs">Make Payment: Complete the payment within the specified timeframe and</text>
<text x="453" y="573.0" class="st" textLength="110.0" lengthAdjust="spacingAndGlyphs">retain payment receipts as records.</text>
<path d="M427 543.0 L431.2 543.0 M431.2 543.0 C435.2 531.6 437.2 520.2 448 520.2 M431.2 543.0 L448 543.0 M431.2 543.0 C435.2 554.1 437.2 565.3 448 565.3 " fill="none" stroke="#ccc4e0" stroke-width="1"/>
</svg>
</body></html>
